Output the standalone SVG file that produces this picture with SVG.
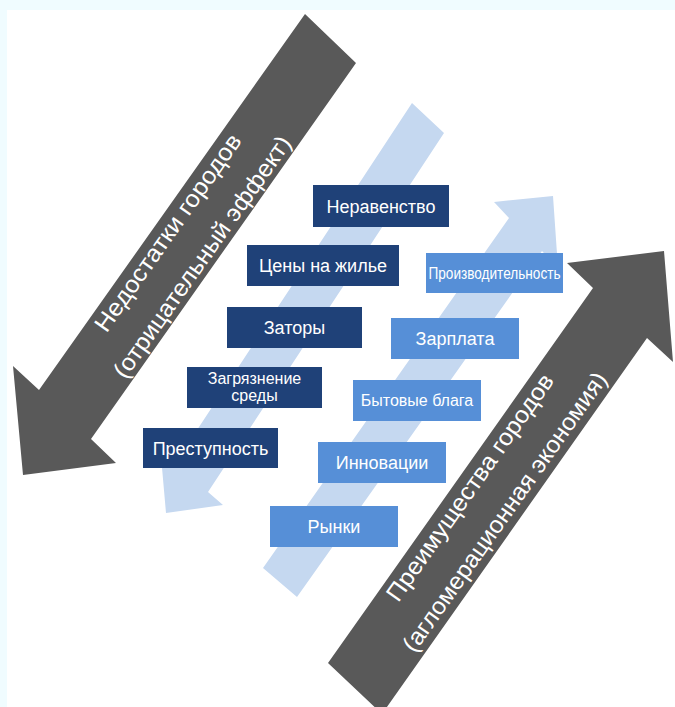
<svg xmlns="http://www.w3.org/2000/svg" width="675" height="707" viewBox="0 0 675 707">
<style>
.bg{fill:#f0fcff}
.big{fill:#595959}
.lt{fill:#c5d8f0}
.dk{fill:#1f4178}
.lb{fill:#568fd7}
.t{font-family:"Liberation Sans",Arial,sans-serif;fill:#ffffff;text-anchor:middle}
.bt{font-size:18px}
.at{font-size:24px}
</style>
<rect class="bg" x="0" y="0" width="675" height="707"/>
<rect x="7" y="10" width="668" height="697" fill="#ffffff"/>
<g id="connectors">
<polygon id="light-arrow-down" class="lt" points="412,103 444,133 208,492 223,505 166,513 160,445 176,462"/>
<polygon id="light-arrow-up" class="lt" points="263,568 509,218 494,202 553,196 558,268 542,251 297,597"/>
</g>
<g id="arrow-negative">
<polygon class="big" points="305,14 356,63 91,439 116,463 23,475 13,366 39,390"/>
<g transform="translate(185.1,244.8) rotate(-54.8)">
<text class="t at" x="0" y="-13" textLength="236" lengthAdjust="spacingAndGlyphs">Недостатки городов</text>
<text class="t at" x="0" y="29" textLength="290" lengthAdjust="spacingAndGlyphs">(отрицательный эффект)</text>
</g>
</g>
<g id="arrow-positive">
<polygon class="big" points="328,663 593,288 567,263 664,251 673,362 647,338 382,714"/>
<g transform="translate(488,500.1) rotate(-54.8)">
<text class="t at" x="0" y="-14" textLength="272" lengthAdjust="spacingAndGlyphs">Преимущества городов</text>
<text class="t at" x="0" y="28.5" textLength="336" lengthAdjust="spacingAndGlyphs">(агломерационная экономия)</text>
</g>
</g>
<g id="n-neravenstvo"><rect class="dk" x="313" y="185" width="136" height="42"/><text class="t bt" x="381" y="212.5">Неравенство</text></g>
<g id="n-tseny"><rect class="dk" x="247" y="245" width="152" height="41"/><text class="t bt" x="323" y="272">Цены на жилье</text></g>
<g id="n-zatory"><rect class="dk" x="227" y="307" width="135" height="41"/><text class="t bt" x="294.5" y="334">Заторы</text></g>
<g id="n-zagryaznenie"><rect class="dk" x="187" y="367" width="135" height="41"/><text class="t" font-size="16" x="254.5" y="384">Загрязнение</text><text class="t" font-size="16" x="254.5" y="401">среды</text></g>
<g id="n-prestupnost"><rect class="dk" x="143" y="428" width="135" height="40"/><text class="t bt" x="210.5" y="454.5">Преступность</text></g>
<g id="n-proizvoditelnost"><rect class="lb" x="426" y="253" width="137" height="40"/><text class="t" font-size="16" x="494.5" y="279" textLength="132" lengthAdjust="spacingAndGlyphs">Производительность</text></g>
<g id="n-zarplata"><rect class="lb" x="391" y="318" width="128" height="41"/><text class="t bt" x="455" y="345">Зарплата</text></g>
<g id="n-bytovye"><rect class="lb" x="353" y="380" width="128" height="41"/><text class="t" font-size="16" x="417" y="406">Бытовые блага</text></g>
<g id="n-innovatsii"><rect class="lb" x="318" y="442" width="128" height="41"/><text class="t bt" x="382" y="469">Инновации</text></g>
<g id="n-rynki"><rect class="lb" x="270" y="506" width="128" height="41"/><text class="t bt" x="334" y="533">Рынки</text></g>
</svg>
